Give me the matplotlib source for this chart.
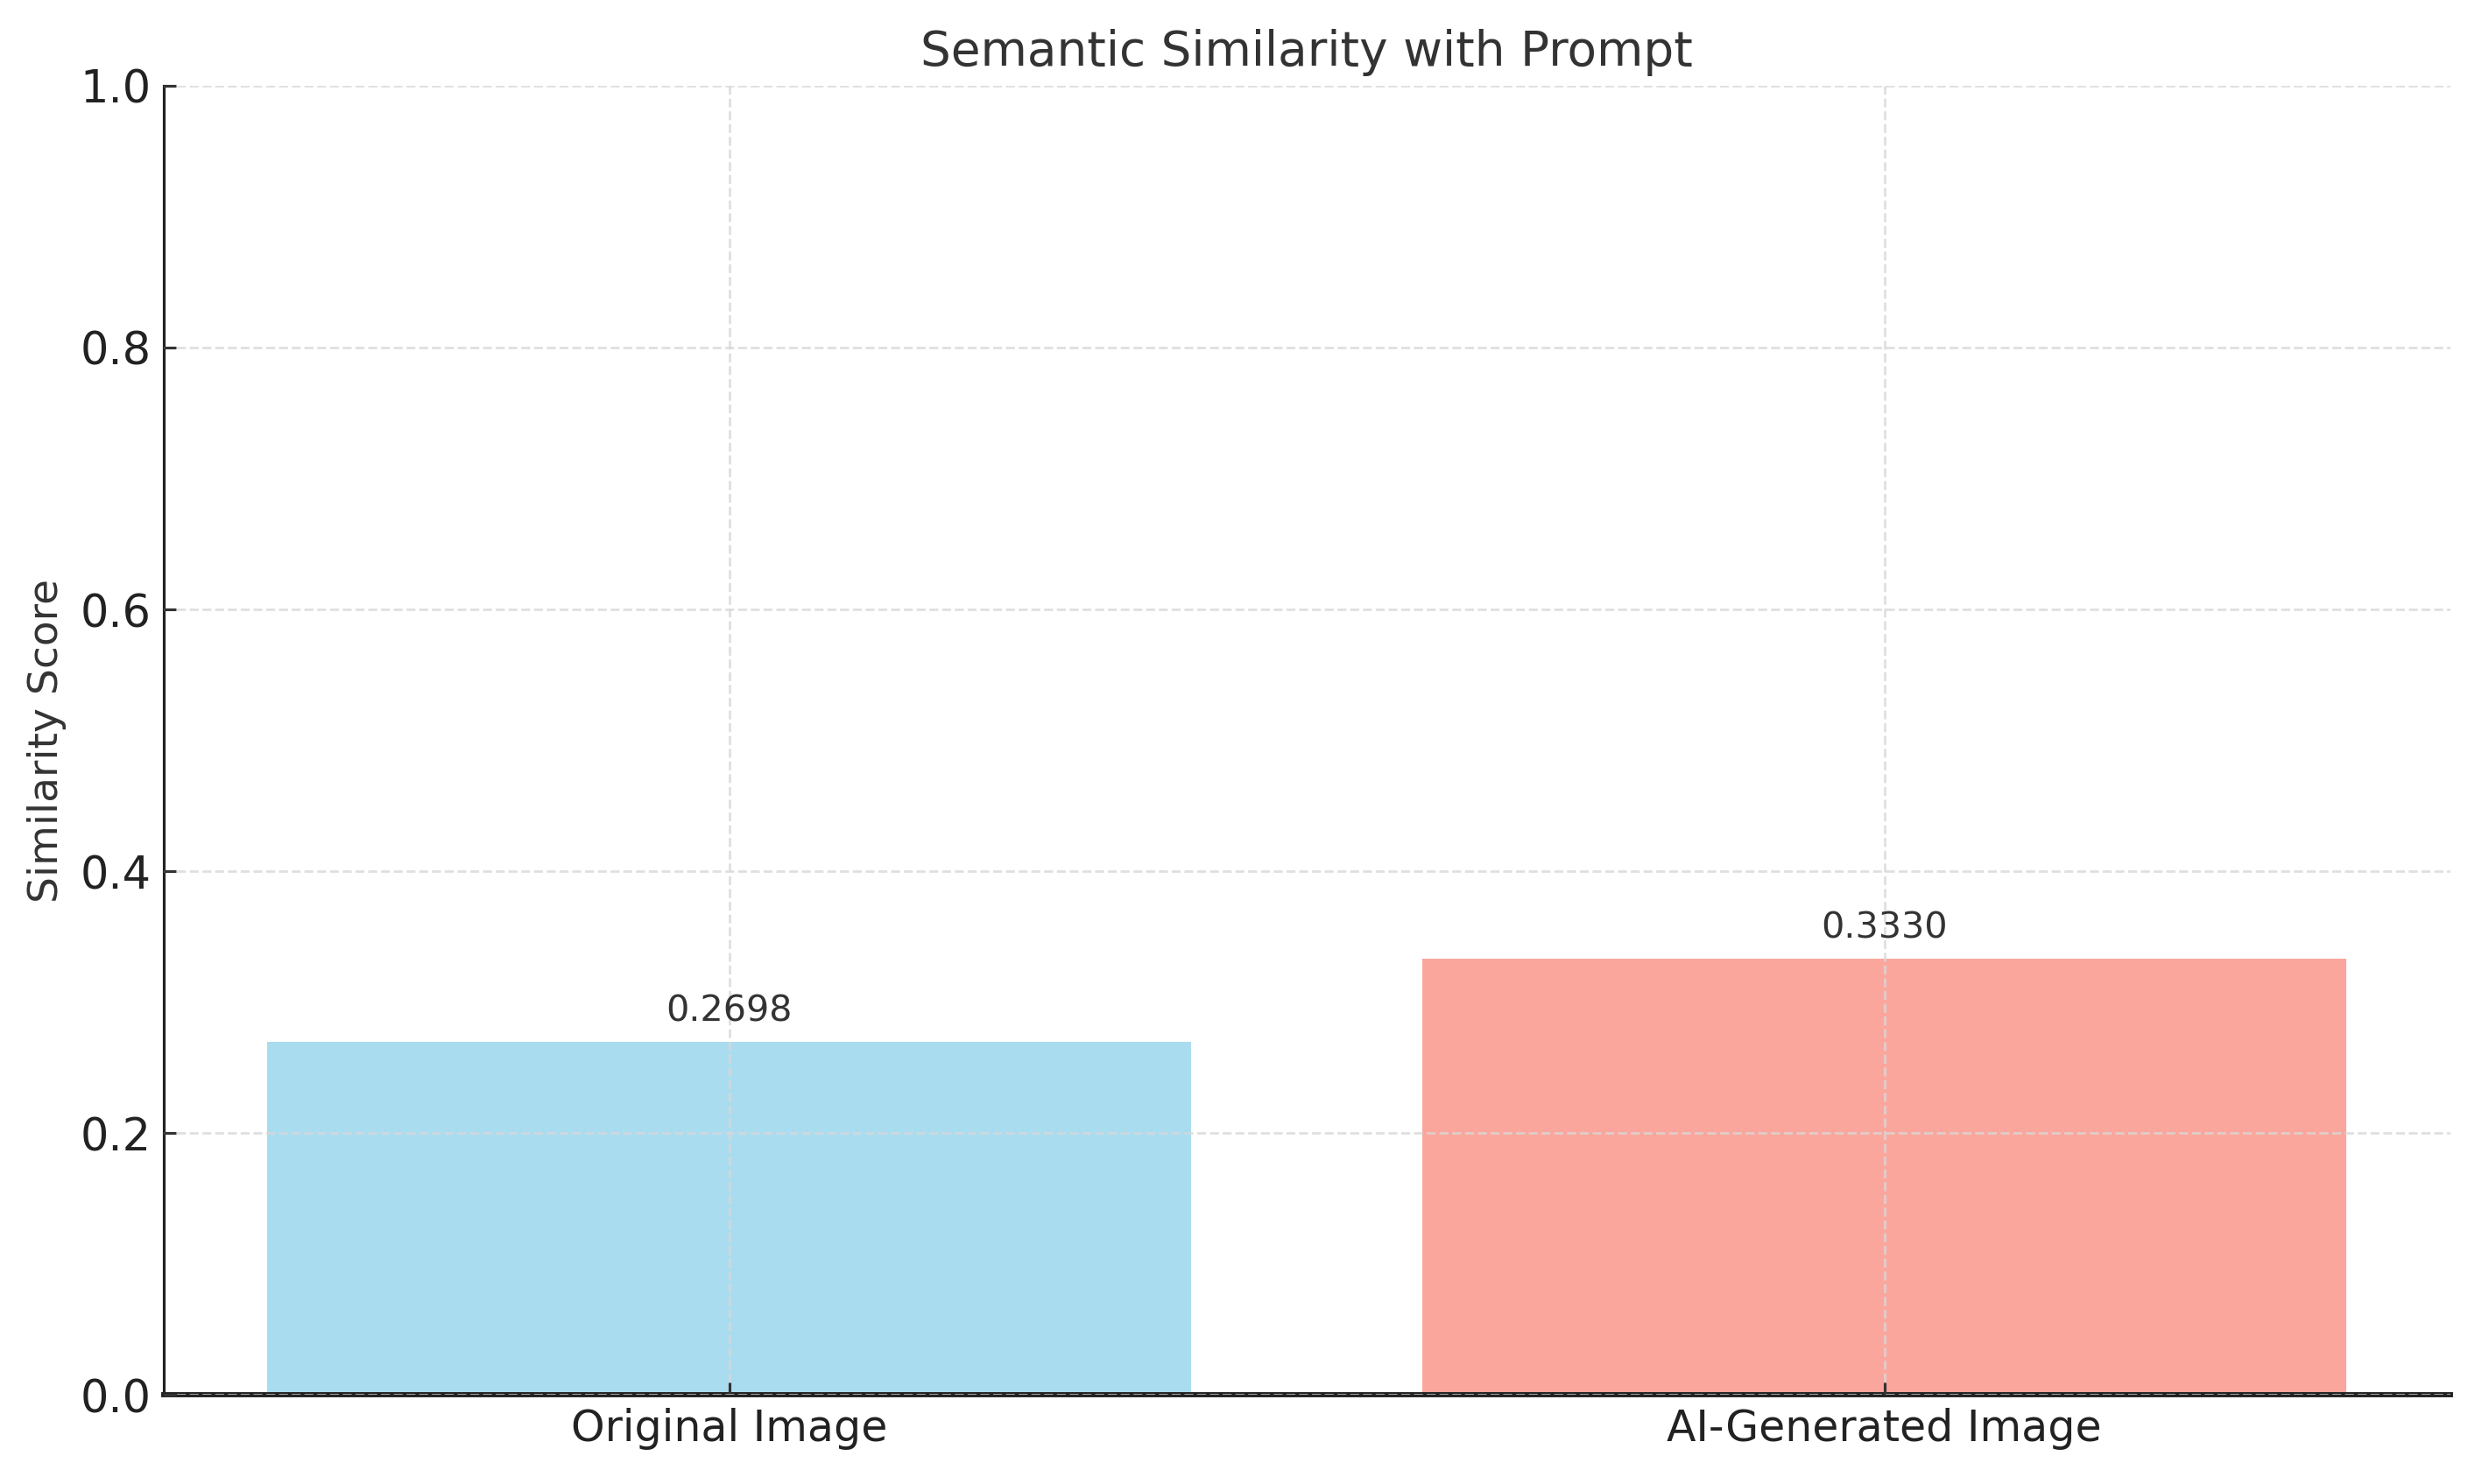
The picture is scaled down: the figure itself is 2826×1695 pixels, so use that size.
import matplotlib.pyplot as plt

categories = ["Original Image", "AI-Generated Image"]
scores = [0.2698, 0.3330]
colors = ["skyblue", "salmon"]
yticks = [0.0, 0.2, 0.4, 0.6, 0.8, 1.0]

plt.rcParams['font.family'] = ['DejaVu Sans']
plt.rcParams['text.color'] = '#333333'

fig, ax = plt.subplots(figsize=(10, 6), dpi=282.6)

bars = ax.bar(categories, scores, color=colors, alpha=0.7, width=0.8)

# value labels above bars
for b, v in zip(bars, scores):
    ax.text(b.get_x() + b.get_width() / 2, v + 0.01, "{:.4f}".format(v),
            ha="center", va="bottom", fontsize=10.5, color="#333333")

ax.set_ylim(0, 1)
ax.set_yticks(yticks)
ax.set_title("Semantic Similarity with Prompt", fontsize=14, color="#333333")
ax.set_ylabel("Similarity Score", fontsize=12, color="#333333")
ax.tick_params(axis="both", direction="in", labelsize=13, colors="#333333",
               labelcolor="#222222")
ax.tick_params(axis="x", labelsize=12.5)

ax.grid(True, linestyle="--", color="#d8d8d8", linewidth=0.7, alpha=0.8)
ax.set_axisbelow(False)
for s in ["top", "right"]:
    ax.spines[s].set_visible(False)
ax.spines["left"].set_color("#222222")
ax.spines["bottom"].set_color("#222222")
ax.spines["bottom"].set_linewidth(1.5)

plt.subplots_adjust(left=0.066, right=0.99, top=0.942, bottom=0.06)
plt.savefig("out.png", dpi=282.6)
